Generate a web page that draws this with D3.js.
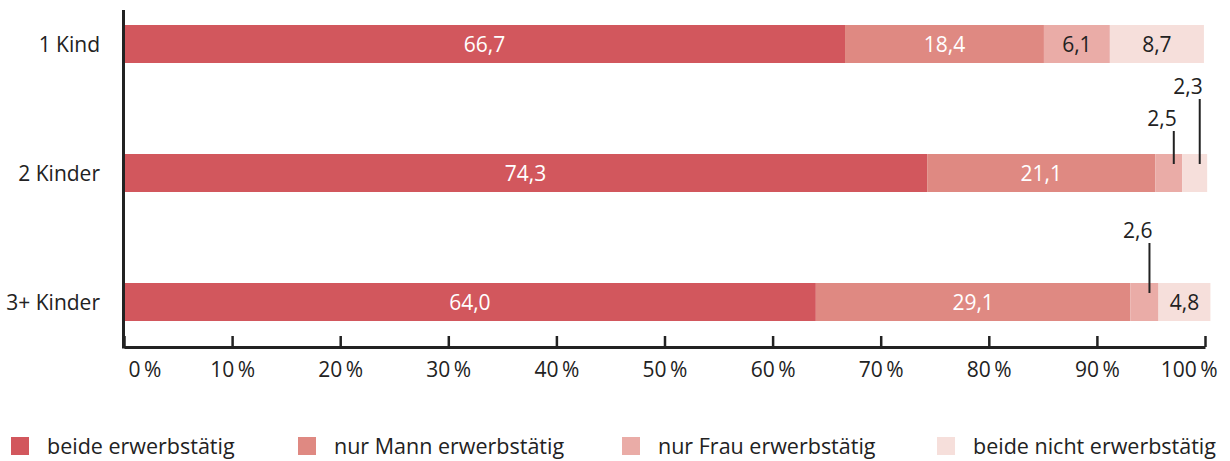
<!DOCTYPE html>
<html>
<head>
<meta charset="utf-8">
<script src="https://cdn.jsdelivr.net/npm/d3@7"></script>
<style>
  body { margin: 0; background: #fff; }
  svg text { font-family: "Open Sans", "Noto Sans", sans-serif; fill: #222; }
</style>
</head>
<body>
<div id="chart"></div>
<script>
// categories and series
let categories = ["1 Kind", "2 Kinder", "3+ Kinder"];
let seriesNames = ["beide erwerbstätig", "nur Mann erwerbstätig", "nur Frau erwerbstätig", "beide nicht erwerbstätig"];
let beide = [66.7, 74.3, 64.0];
let nurMann = [18.4, 21.1, 29.1];
let nurFrau = [6.1, 2.5, 2.6];
let keiner = [8.7, 2.3, 4.8];
let tickValues = [0, 10, 20, 30, 40, 50, 60, 70, 80, 90, 100];

let colors = ["#d2575d", "#df8982", "#eaaca7", "#f6dfdb"];
let labelColors = ["#fff", "#fff", "#222", "#222"];

// small values get a label above the bar with a leader line (top of line, in px above bar)
let calloutHeight = { "2 Kinder|2": 23, "2 Kinder|3": 55, "3+ Kinder|2": 40 };

let width = 1230, height = 461;
let seriesValues = [beide, nurMann, nurFrau, keiner];
let fontSize = "21px";

let fmt = d3.formatLocale({ decimal: ",", thousands: ".", grouping: [3], currency: ["", "€"] }).format(".1f");

let svg = d3.select("#chart").append("svg")
  .attr("width", width)
  .attr("height", height);

let xScale = d3.scaleLinear().domain([0, 100]).range([124, 1205]);
let yScale = d3.scalePoint().domain(categories).range([44, 302]);
let barH = 38;

// stack the series per category
let rows = categories.map((c, i) => {
  let row = { cat: c };
  seriesNames.forEach((s, j) => row[s] = seriesValues[j][i]);
  return row;
});
let stacked = d3.stack().keys(seriesNames)(rows);

let layers = svg.selectAll(".layer")
  .data(stacked)
  .enter()
  .append("g")
  .attr("class", "layer")
  .attr("fill", (d, i) => colors[i]);

layers.selectAll("rect")
  .data(d => d)
  .enter()
  .append("rect")
  .attr("x", d => xScale(d[0]))
  .attr("y", d => yScale(d.data.cat) - barH / 2)
  .attr("width", d => xScale(d[1]) - xScale(d[0]))
  .attr("height", barH);

// value labels
stacked.forEach((layer, j) => {
  layer.forEach(d => {
    let v = d[1] - d[0];
    let cat = d.data.cat;
    let cy = yScale(cat);
    let key = cat + "|" + j;
    if (calloutHeight[key] === undefined) {
      svg.append("text")
        .attr("x", (xScale(d[0]) + xScale(d[1])) / 2)
        .attr("y", cy)
        .attr("dy", "0.36em")
        .attr("text-anchor", "middle")
        .style("font-size", fontSize)
        .style("fill", labelColors[j])
        .text(fmt(v));
    } else {
      let lx = (xScale(d[0]) + xScale(d[1])) / 2 + 5;
      let bottom = cy - barH / 2 + 10;
      let top = cy - barH / 2 - calloutHeight[key];
      svg.append("line")
        .attr("x1", lx).attr("x2", lx)
        .attr("y1", top).attr("y2", bottom)
        .attr("stroke", "#222")
        .attr("stroke-width", 2);
      svg.append("text")
        .attr("x", lx + 3)
        .attr("y", top - 5)
        .attr("text-anchor", "end")
        .style("font-size", fontSize)
        .text(fmt(v));
    }
  });
});

// category labels
svg.selectAll(".catLbl")
  .data(categories)
  .enter()
  .append("text")
  .attr("class", "catLbl")
  .attr("x", 100)
  .attr("y", d => yScale(d))
  .attr("dy", "0.36em")
  .attr("text-anchor", "end")
  .style("font-size", fontSize)
  .text(d => d);

// x axis
let axisY = 347;
let xAxis = d3.axisBottom(xScale)
  .tickValues(tickValues)
  .tickSizeInner(-11)
  .tickSizeOuter(0)
  .tickPadding(12)
  .tickFormat(d => d + "\u2009%");

let gx = svg.append("g")
  .attr("transform", "translate(0," + axisY + ")")
  .call(xAxis);
gx.select(".domain").attr("stroke", "#222").attr("stroke-width", 3);
gx.selectAll(".tick line").attr("stroke", "#222").attr("stroke-width", 2.5);
gx.selectAll(".tick text")
  .style("font-size", fontSize)
  .style("font-family", "'Open Sans', sans-serif")
  .attr("fill", "#222")
  .attr("y", 12)
  .attr("dy", "0.85em")
  .attr("text-anchor", d => d === 0 ? "start" : (d === 100 ? "end" : "middle"))
  .attr("dx", d => d === 0 ? 4 : (d === 100 ? 12 : 0));

// y axis line
svg.append("line")
  .attr("x1", 123.5).attr("x2", 123.5)
  .attr("y1", 10).attr("y2", axisY + 1.5)
  .attr("stroke", "#222")
  .attr("stroke-width", 3);

// legend
let legendX = [11, 298, 622, 937];
let legend = svg.selectAll(".legend")
  .data(seriesNames)
  .enter()
  .append("g")
  .attr("class", "legend")
  .attr("transform", (d, i) => "translate(" + legendX[i] + ",437)");
legend.append("rect")
  .attr("width", 18).attr("height", 18)
  .attr("fill", (d, i) => colors[i]);
legend.append("text")
  .attr("x", 36)
  .attr("y", 9)
  .attr("dy", "0.36em")
  .style("font-size", "21.5px")
  .text(d => d);
</script>
</body>
</html>
